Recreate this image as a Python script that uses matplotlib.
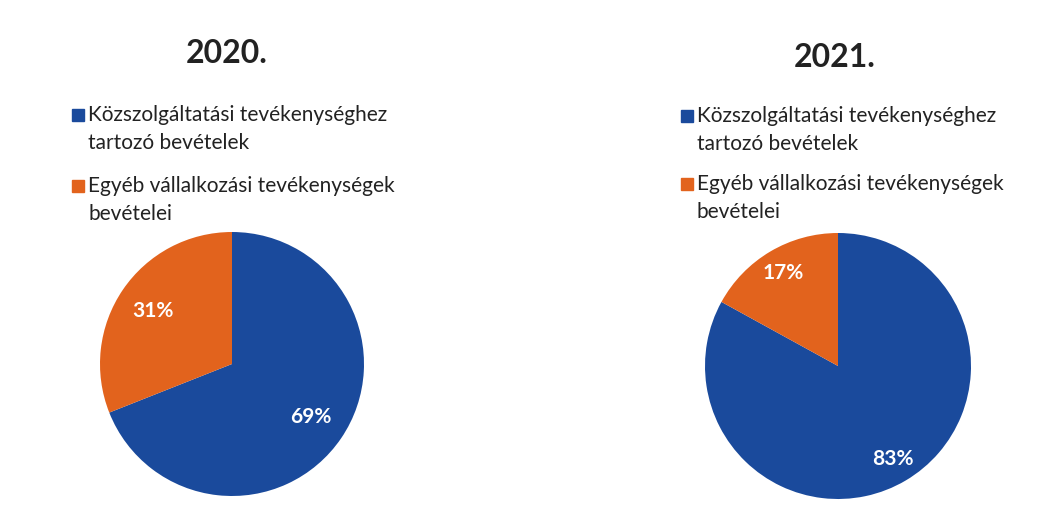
import matplotlib
matplotlib.use('Agg')
import matplotlib.pyplot as plt
from matplotlib.patches import Rectangle

W, H = 1046, 519

# data
years = ['2020.', '2021.']
categories = ['Közszolgáltatási tevékenységhez\ntartozó bevételek',
              'Egyéb vállalkozási tevékenységek\nbevételei']
values_2020 = [69, 31]
values_2021 = [83, 17]

colors = ['#1A4A9C', '#E2631D']

plt.rcParams['font.family'] = ['Lato', 'DejaVu Sans']

fig = plt.figure(figsize=(W / 100, H / 100), dpi=100)


def px(x, y):
    # pixel coords (top-left origin) -> figure fraction
    return x / W, 1 - y / H


def draw_panel(values, title, cx, cy, r, title_x, title_y, leg_x, leg_y, pctdist):
    ax = fig.add_axes([(cx - r) / W, 1 - (cy + r) / H, 2 * r / W, 2 * r / H])
    ax.pie(values, colors=colors, startangle=90, counterclock=False,
           autopct='%d%%', pctdistance=pctdist,
           textprops=dict(color='white', fontsize=15, fontweight='bold'),
           wedgeprops=dict(linewidth=0))
    ax.set_xlim(-1, 1)
    ax.set_ylim(-1, 1)
    ax.set_aspect('equal')

    fig.text(*px(title_x, title_y), title, ha='center', va='baseline',
             fontsize=23, fontweight='bold', color='#222222')

    # legend entries, leg_y = baseline of first line
    for i, label in enumerate(categories):
        y0 = leg_y[i]
        sx, sy = px(leg_x - 16, y0 - 1)
        fig.patches.append(Rectangle((sx, sy), 12 / W, 12 / H, color=colors[i],
                                     transform=fig.transFigure, figure=fig))
        fig.text(*px(leg_x, y0 + 27), label, ha='left', va='baseline',
                 fontsize=15, color='#222222', linespacing=1.53)


draw_panel(values_2020, years[0], 232, 364, 132, 227, 63, 88, [122, 193], 0.72)
draw_panel(values_2021, years[1], 838, 366, 133, 835, 67, 697, [123, 191], 0.81)

fig.savefig('out.png', dpi=100)
